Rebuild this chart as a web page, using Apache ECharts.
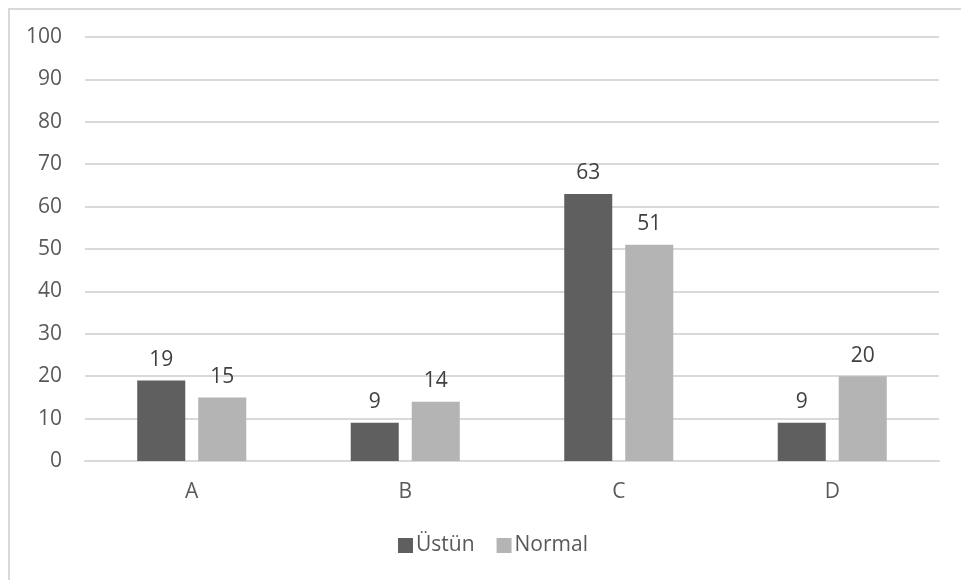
<!DOCTYPE html>
<html>
<head>
<meta charset="utf-8">
<script src="https://cdn.jsdelivr.net/npm/echarts@6/dist/echarts.min.js"></script>
<style>
  html, body { margin: 0; padding: 0; background: #ffffff; }
  #chart { width: 961px; height: 580px; }
</style>
</head>
<body>
<div id="chart"></div>
<script>
// Groups along the x axis
const categories = ['A', 'B', 'C', 'D'];
// Series names and values (percent)
const seriesNames = ['Üstün', 'Normal'];
const ustunValues = [19, 9, 63, 9];
const normalValues = [15, 14, 51, 20];
// Value axis range
const yMin = 0;
const yMax = 100;
const yStep = 10;

const FONT = '"Open Sans", "Noto Sans", sans-serif';
const FS = 21;
const chart = echarts.init(document.getElementById('chart'), null, { renderer: 'canvas' });

const labelStyle = {
  show: true,
  position: 'top',
  distance: 10,
  color: '#404040',
  fontFamily: FONT,
  fontSize: FS
};

chart.setOption({
  animation: false,
  backgroundColor: '#ffffff',
  textStyle: { fontFamily: FONT },
  graphic: [{
    type: 'rect',
    shape: { x: 9, y: 9, width: 1000, height: 1000 },
    style: { fill: 'none', stroke: '#d9d9d9', lineWidth: 2 },
    silent: true
  }],
  grid: { left: 85, right: 22, top: 37, bottom: 119, containLabel: false },
  legend: {
    bottom: 19,
    left: 393,
    icon: 'rect',
    itemWidth: 15,
    itemHeight: 15,
    itemGap: 22,
    textStyle: { color: '#595959', fontSize: FS, fontFamily: FONT, padding: [0, 0, 0, -2] },
    data: seriesNames
  },
  xAxis: {
    type: 'category',
    data: categories,
    axisLine: { show: true, lineStyle: { color: '#d9d9d9', width: 2 } },
    axisTick: { show: false },
    axisLabel: { color: '#595959', fontSize: FS, fontFamily: FONT, margin: 21 }
  },
  yAxis: {
    type: 'value',
    min: yMin,
    max: yMax,
    interval: yStep,
    axisLine: { show: false },
    axisTick: { show: false },
    splitLine: { lineStyle: { color: '#d9d9d9', width: 2 } },
    axisLabel: { color: '#595959', fontSize: FS, fontFamily: FONT, margin: 23 }
  },
  series: [
    {
      name: seriesNames[0],
      type: 'bar',
      data: ustunValues,
      barWidth: '22.5%',
      barGap: '27%',
      itemStyle: { color: '#5f5f5f' },
      label: labelStyle
    },
    {
      name: seriesNames[1],
      type: 'bar',
      data: normalValues,
      barWidth: '22.5%',
      barGap: '27%',
      itemStyle: { color: '#b4b4b4' },
      label: labelStyle
    }
  ]
});
</script>
</body>
</html>
